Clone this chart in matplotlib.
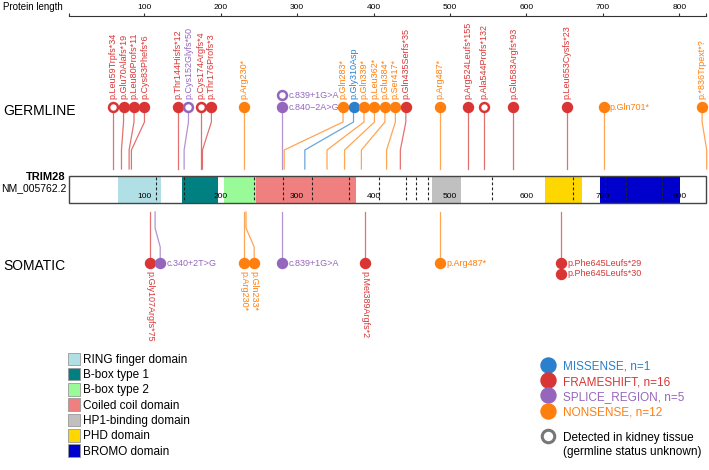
import matplotlib
matplotlib.use('Agg')
import matplotlib.pyplot as plt
from matplotlib.patches import Rectangle, Patch
from matplotlib.lines import Line2D

plt.rcParams['font.family'] = ['Liberation Sans', 'DejaVu Sans']

# ---- data ----
protein_length = 835
length_ticks = [100, 200, 300, 400, 500, 600, 700, 800]

domain_names = ['RING finger domain', 'B-box type 1', 'B-box type 2', 'Coiled coil domain',
                'HP1-binding domain', 'PHD domain', 'BROMO domain']
domain_start = [65, 149, 204, 246, 476, 624, 696]
domain_end = [122, 196, 246, 377, 514, 673, 801]

exon_bounds = [115, 152, 243, 281, 320, 368, 407, 442, 455, 471, 555, 661, 703, 731, 778]

germ_labels = ['p.Leu59Trpfs*34', 'p.Glu70Alafs*19', 'p.Leu80Profs*11', 'p.Cys83Phefs*6',
               'p.Thr144Hisfs*12', 'p.Cys152Glyfs*50', 'p.Cys174Argfs*4', 'p.Thr176Profs*3',
               'p.Arg230*', 'c.840\u22122A>G', 'c.839+1G>A', 'p.Gln283*', 'p.Gly310Asp',
               'p.Gln339*', 'p.Leu362*', 'p.Glu384*', 'p.Ser417*', 'p.Gln435Serfs*35',
               'p.Arg487*', 'p.Arg524Leufs*155', 'p.Ala544Profs*132', 'p.Glu583Argfs*93',
               'p.Leu653Cysfs*23', 'p.Gln701*', 'p.*836Trpext*?']
germ_pos = [59, 70, 80, 83, 144, 152, 174, 176, 230, 280, 280, 283, 310, 339, 362, 384, 417,
            435, 487, 524, 544, 583, 653, 701, 836]
germ_type = ['FRAMESHIFT', 'FRAMESHIFT', 'FRAMESHIFT', 'FRAMESHIFT', 'FRAMESHIFT',
             'SPLICE_REGION', 'FRAMESHIFT', 'FRAMESHIFT', 'NONSENSE', 'SPLICE_REGION',
             'SPLICE_REGION', 'NONSENSE', 'MISSENSE', 'NONSENSE', 'NONSENSE', 'NONSENSE',
             'NONSENSE', 'FRAMESHIFT', 'NONSENSE', 'FRAMESHIFT', 'FRAMESHIFT', 'FRAMESHIFT',
             'FRAMESHIFT', 'NONSENSE', 'NONSENSE']
germ_kidney = ['p.Leu59Trpfs*34', 'p.Cys152Glyfs*50', 'p.Cys174Argfs*4', 'c.839+1G>A',
               'p.Ala544Profs*132']

som_labels = ['p.Gly107Argfs*75', 'c.340+2T>G', 'p.Arg230*', 'p.Gln233*', 'c.839+1G>A',
              'p.Met389Argfs*2', 'p.Arg487*', 'p.Phe645Leufs*29', 'p.Phe645Leufs*30']
som_pos = [107, 114, 230, 233, 280, 389, 487, 645, 645]
som_type = ['FRAMESHIFT', 'SPLICE_REGION', 'NONSENSE', 'NONSENSE', 'SPLICE_REGION',
            'FRAMESHIFT', 'NONSENSE', 'FRAMESHIFT', 'FRAMESHIFT']

type_names = ['MISSENSE', 'FRAMESHIFT', 'SPLICE_REGION', 'NONSENSE']

# ---- style / layout ----
domain_colors = ['#b0e0e6', '#008080', '#98fb98', '#f08080', '#c0c0c0', '#ffd700', '#0000cd']
type_colors = {'MISSENSE': '#2a80cc', 'FRAMESHIFT': '#d93535',
               'SPLICE_REGION': '#9467bd', 'NONSENSE': '#ff7f0e'}
horizontal = {'c.840\u22122A>G', 'c.839+1G>A', 'p.Gln701*', 'c.340+2T>G', 'p.Arg487*',
              'p.Phe645Leufs*29', 'p.Phe645Leufs*30'}
germ_vertical_h = {'p.Arg487*'}  # germline Arg487 keeps a vertical label
min_gap = 13.7
wide_gap = 80
lab_fs = 6.5


def spread(pos, labels, horiz):
    heads, level = [], []
    last_pos, last_head, gap = None, None, 0
    for p, lab in zip(pos, labels):
        if p == last_pos:
            heads.append(last_head)
            level.append(level[-1] + 1)
        else:
            h = p if last_head is None else max(p, last_head + gap)
            h = min(h, protein_length - 5)
            heads.append(h)
            level.append(0)
            last_pos, last_head = p, h
        gap = wide_gap if lab in horiz else min_gap
    return heads, level


fig = plt.figure(figsize=(7.09, 4.70), dpi=100)
ax = fig.add_axes([0, 0, 1, 1])
ax.set_xlim(-89, 839)
ax.set_ylim(470, 0)
ax.axis('off')

# top length axis
ax.plot([1, protein_length], [15.5, 15.5], color='#333333', lw=0.8)
ax.vlines([1] + length_ticks + [protein_length], 12.5, 15.5, color='#333333', lw=0.8)
for t in length_ticks:
    ax.text(t, 7.5, str(t), ha='center', va='center', fontsize=6)
fig.text(3 / 709, 1 - 7.5 / 470, 'Protein length', fontsize=7, va='center')

# protein bar
ax.add_patch(Rectangle((1, 176), protein_length - 1, 27, fc='white', ec='none', zorder=1))
for s, e, c in zip(domain_start, domain_end, domain_colors):
    ax.add_patch(Rectangle((s, 176), e - s, 27, fc=c, ec='none', zorder=2))
ax.vlines(exon_bounds, 177, 202, colors='#222222', linestyles=(0, (2.5, 2)), lw=0.8, zorder=3)
ax.add_patch(Rectangle((1, 176), protein_length - 1, 27, fill=False, ec='#444444', lw=1, zorder=4))
for t in length_ticks:
    ax.text(t, 196, str(t), ha='center', va='center', fontsize=6, zorder=5)

fig.text(66 / 709, 1 - 177 / 470, 'TRIM28', ha='right', va='center', fontsize=8, fontweight='bold')
fig.text(66 / 709, 1 - 188 / 470, 'NM_005762.2', ha='right', va='center', fontsize=7.5)
fig.text(3 / 709, 1 - 111 / 470, 'GERMLINE', va='center', fontsize=10)
fig.text(3 / 709, 1 - 266 / 470, 'SOMATIC', va='center', fontsize=10)

# germline lollipops
g_horiz = horizontal - germ_vertical_h
g_heads, g_level = spread(germ_pos, germ_labels, g_horiz)
for lab, p, t, h, lv in zip(germ_labels, germ_pos, germ_type, g_heads, g_level):
    col = type_colors[t]
    if lv == 0:
        ax.plot([p, p, h, h], [169, 150, 122, 107], color=col, alpha=0.7, lw=0.9, zorder=2)
    y = 107 - 12 * lv
    hollow = lab in germ_kidney
    ax.scatter([h], [y], s=(6.4 if hollow else 7.2) ** 2, facecolor='white' if hollow else col,
               edgecolor=col, linewidths=1.8 if hollow else 1, zorder=5)
    if lab in g_horiz:
        ax.annotate(lab, (h, y), xytext=(4.5, 0), textcoords='offset points',
                    ha='left', va='center', fontsize=lab_fs, color=col)
    else:
        ax.annotate(lab, (h, y), xytext=(0, 5.5), textcoords='offset points', rotation=90,
                    ha='center', va='bottom', fontsize=lab_fs, color=col)

# somatic lollipops
s_heads, s_level = spread(som_pos, som_labels, horizontal)
for lab, p, t, h, lv in zip(som_labels, som_pos, som_type, s_heads, s_level):
    col = type_colors[t]
    if lv == 0:
        ax.plot([p, p, h, h], [212, 228, 247, 263], color=col, alpha=0.7, lw=0.9, zorder=2)
    y = 263 + 11 * lv
    ax.scatter([h], [y], s=7.2 ** 2, facecolor=col, edgecolor=col, linewidths=1, zorder=5)
    if lab in horizontal:
        ax.annotate(lab, (h, y), xytext=(4.5, 0), textcoords='offset points',
                    ha='left', va='center', fontsize=lab_fs, color=col)
    else:
        ax.annotate(lab, (h, y), xytext=(0, -5.5), textcoords='offset points', rotation=270,
                    ha='center', va='top', fontsize=lab_fs, color=col)

# legends
dom_handles = [Patch(facecolor=c, edgecolor='#999999', lw=0.6) for c in domain_colors]
fig.legend(dom_handles, domain_names, loc='upper left', bbox_to_anchor=(68 / 709, 1 - 352.5 / 470),
           frameon=False, fontsize=8.5, handlelength=1.0, handleheight=1.27, labelspacing=0.17,
           handletextpad=0.3, borderpad=0, borderaxespad=0)

all_types = germ_type + som_type
type_handles = [Line2D([], [], marker='o', ls='none', markersize=10.8,
                       markerfacecolor=type_colors[t], markeredgecolor=type_colors[t])
                for t in type_names]
type_labels = ['%s, n=%d' % (t, all_types.count(t)) for t in type_names]
fig.legend(type_handles, type_labels, loc='upper left', bbox_to_anchor=(540.5 / 709, 1 - 359.5 / 470),
           frameon=False, fontsize=8.5, handlelength=1.27, handleheight=1.27, labelspacing=0.17,
           handletextpad=0.6, borderpad=0, borderaxespad=0,
           labelcolor=[type_colors[t] for t in type_names])

kid_handle = Line2D([], [], marker='o', ls='none', markersize=9, markerfacecolor='white',
                    markeredgecolor='#777777', markeredgewidth=2.2)
fig.legend([kid_handle], ['Detected in kidney tissue'], loc='upper left',
           bbox_to_anchor=(540.5 / 709, 1 - 430.5 / 470), frameon=False, fontsize=8.5,
           handlelength=1.27, handleheight=1.27, handletextpad=0.6, borderpad=0, borderaxespad=0)
fig.text(563 / 709, 1 - 452 / 470, '(germline status unknown)', va='center', fontsize=8.5)

fig.savefig('out.png', dpi=100)
